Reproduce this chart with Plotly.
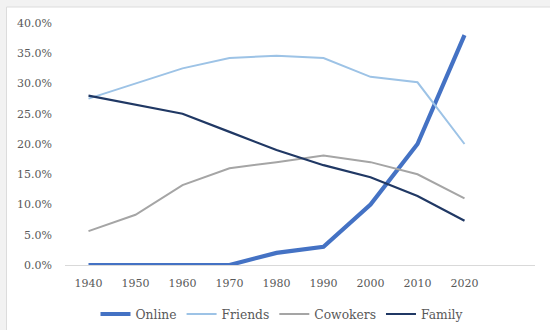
import plotly.graph_objects as go

# How people met their partners, share by decade
years = [1940, 1950, 1960, 1970, 1980, 1990, 2000, 2010, 2020]
online = [0.0, 0.0, 0.0, 0.0, 2.0, 3.0, 10.0, 20.0, 38.0]
friends = [27.5, 30.0, 32.5, 34.2, 34.6, 34.2, 31.1, 30.2, 20.0]
coworkers = [5.6, 8.3, 13.2, 16.0, 17.0, 18.1, 17.0, 15.0, 11.0]
family = [28.0, 26.5, 25.0, 22.0, 19.0, 16.5, 14.5, 11.4, 7.3]
y_ticks = [0, 5, 10, 15, 20, 25, 30, 35, 40]
y_tick_labels = ["0.0%", "5.0%", "10.0%", "15.0%", "20.0%", "25.0%", "30.0%", "35.0%", "40.0%"]

series = [
    ("Online", online, "#4472C4", 4.2),
    ("Friends", friends, "#9DC3E6", 2.0),
    ("Cowokers", coworkers, "#A5A5A5", 2.0),
    ("Family", family, "#203864", 2.2),
]

W, H = 550, 330
ML, MR, MT, MB = 65, 15, 23, 65
PW, PH = W - ML - MR, H - MT - MB


def px_x(x):
    return (x - ML) / PW


def px_y(y):
    return (H - MB - y) / PH


fig = go.Figure()
for name, vals, color, width in series:
    fig.add_trace(go.Scatter(
        x=years, y=vals, name=name, mode="lines",
        line=dict(color=color, width=width),
    ))

font_family = "DejaVu Serif"
fig.update_layout(
    width=W, height=H,
    margin=dict(l=ML, r=MR, t=MT, b=MB, autoexpand=False),
    paper_bgcolor="white",
    plot_bgcolor="white",
    font=dict(family=font_family, size=11, color="#595959"),
    showlegend=True,
    legend=dict(
        orientation="h", x=px_x(282), xanchor="center",
        y=px_y(314), yanchor="middle",
        font=dict(family=font_family, size=12.3, color="#595959"),
        itemwidth=30, tracegroupgap=0,
    ),
    xaxis=dict(
        range=[1935, 2035], tickmode="array", tickvals=years,
        ticktext=[str(y) for y in years],
        showgrid=False, zeroline=False,
        showline=True, linecolor="#D9D9D9", linewidth=1,
        ticks="", tickfont=dict(family=font_family, size=11),
        ticklabelstandoff=8,
    ),
    yaxis=dict(
        range=[0, 40], tickmode="array", tickvals=y_ticks,
        ticktext=y_tick_labels,
        showgrid=False, zeroline=False, showline=False,
        ticks="", tickfont=dict(family=font_family, size=11),
        ticklabelstandoff=12,
    ),
    shapes=[
        # light frame around the chart area
        dict(type="rect", xref="paper", yref="paper", layer="below",
             x0=px_x(-2), x1=px_x(W + 2), y0=px_y(7), y1=px_y(-2),
             fillcolor="#F2F2F2", line=dict(width=0)),
        dict(type="rect", xref="paper", yref="paper", layer="below",
             x0=px_x(-2), x1=px_x(6.5), y0=px_y(H + 2), y1=px_y(-2),
             fillcolor="#F2F2F2", line=dict(width=0)),
        dict(type="line", xref="paper", yref="paper",
             x0=px_x(6.5), x1=px_x(W + 2), y0=px_y(7), y1=px_y(7),
             line=dict(color="#DCDCDC", width=1)),
        dict(type="line", xref="paper", yref="paper",
             x0=px_x(6.5), x1=px_x(6.5), y0=px_y(7), y1=px_y(H + 2),
             line=dict(color="#DCDCDC", width=1)),
    ],
)

fig.write_html("out.html")
